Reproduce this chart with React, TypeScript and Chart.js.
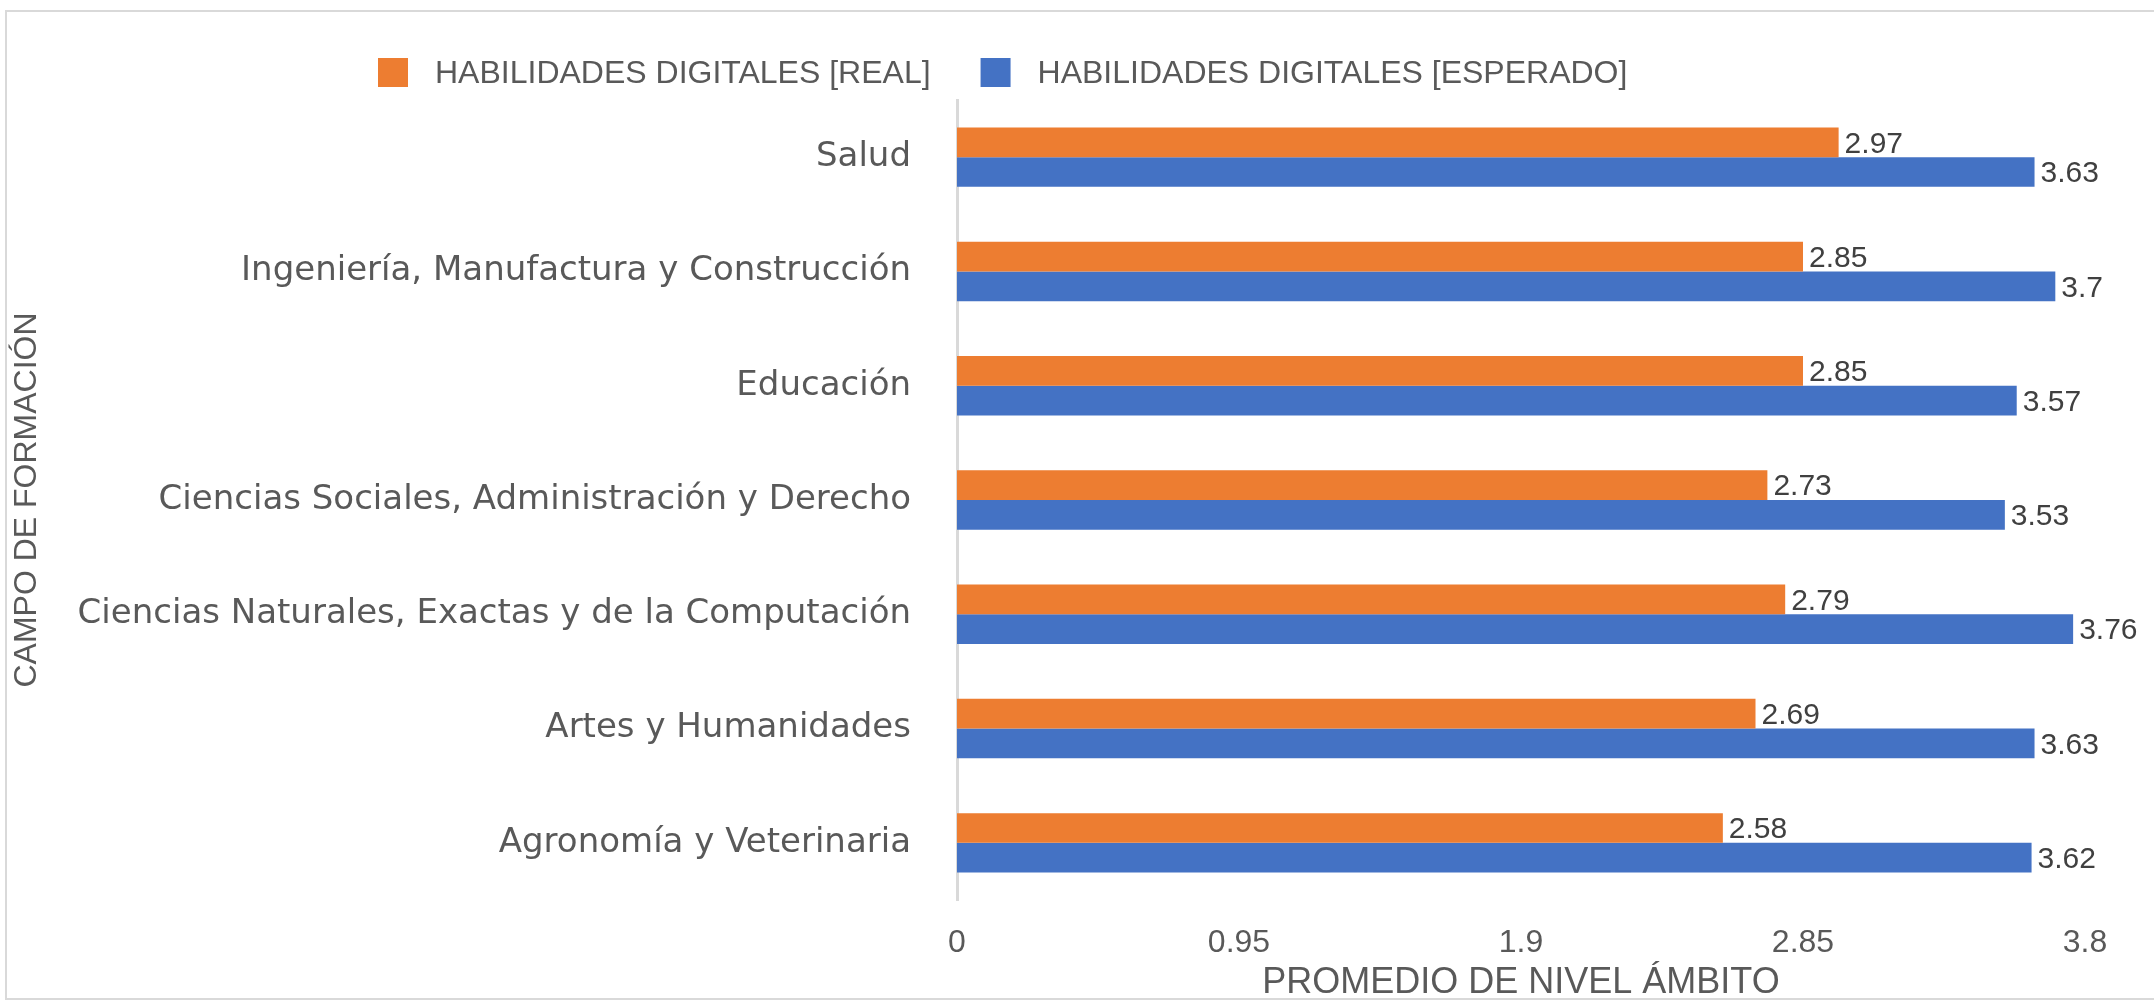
import React, { useEffect, useRef } from "react";
import { Chart, registerables } from "chart.js";

Chart.register(...registerables);

const categories = [
  "Salud",
  "Ingeniería, Manufactura y Construcción",
  "Educación",
  "Ciencias Sociales, Administración y Derecho",
  "Ciencias Naturales, Exactas y de la Computación",
  "Artes y Humanidades",
  "Agronomía y Veterinaria",
];
const realValues = [2.97, 2.85, 2.85, 2.73, 2.79, 2.69, 2.58];
const expectedValues = [3.63, 3.7, 3.57, 3.53, 3.76, 3.63, 3.62];
const seriesNames = ["HABILIDADES DIGITALES [REAL]", "HABILIDADES DIGITALES [ESPERADO]"];
const seriesColors = ["#ED7D31", "#4472C4"];
const xTicks = [0, 0.95, 1.9, 2.85, 3.8];
const xTitle = "PROMEDIO DE NIVEL ÁMBITO";
const yTitle = "CAMPO DE FORMACIÓN";

const FONT = "'Liberation Sans', Arial, sans-serif";
const CAT_FONT = "'DejaVu Sans', 'Liberation Sans', sans-serif";
const TEXT = "#595959";

const borderPlugin = {
  id: "frame",
  beforeDraw(chart: any) {
    const ctx = chart.ctx;
    ctx.save();
    ctx.strokeStyle = "#d9d9d9";
    ctx.lineWidth = 2;
    ctx.strokeRect(6, 11, 2300, 988);
    ctx.restore();
  },
};

const legendPlugin = {
  id: "customLegend",
  afterDraw(chart: any) {
    const ctx = chart.ctx;
    ctx.save();
    ctx.font = `32px ${FONT}`;
    ctx.textBaseline = "middle";
    ctx.textAlign = "left";
    let x = 378;
    const cy = 73;
    chart.data.datasets.forEach((ds: any) => {
      ctx.fillStyle = ds.backgroundColor;
      ctx.fillRect(x, cy - 15, 30, 29);
      x += 30 + 27;
      ctx.fillStyle = TEXT;
      ctx.fillText(ds.label, x, cy + 1);
      x += ctx.measureText(ds.label).width + 50;
    });
    ctx.restore();
  },
};

const dataLabelPlugin = {
  id: "dataLabels",
  afterDatasetsDraw(chart: any) {
    const ctx = chart.ctx;
    ctx.save();
    ctx.font = `30px ${FONT}`;
    ctx.fillStyle = "#404040";
    ctx.textBaseline = "middle";
    ctx.textAlign = "left";
    chart.data.datasets.forEach((ds: any, di: number) => {
      const meta = chart.getDatasetMeta(di);
      meta.data.forEach((bar: any, i: number) => {
        ctx.fillText(String(ds.data[i]), bar.x + 6, bar.y + 2);
      });
    });
    ctx.restore();
  },
};

export default function App() {
  const ref = useRef<HTMLCanvasElement>(null);

  useEffect(() => {
    document.body.style.margin = "0";
    const chart = new Chart(ref.current as HTMLCanvasElement, {
      type: "bar",
      data: {
        labels: categories,
        datasets: [
          { label: seriesNames[0], data: realValues, backgroundColor: seriesColors[0] },
          { label: seriesNames[1], data: expectedValues, backgroundColor: seriesColors[1] },
        ],
      },
      options: {
        indexAxis: "y",
        responsive: false,
        animation: false,
        devicePixelRatio: 1,
        categoryPercentage: 0.52,
        barPercentage: 1.0,
        layout: { padding: { left: 11, top: 100, right: 69, bottom: 0 } },
        plugins: {
          legend: { display: false },
          tooltip: { enabled: false },
        },
        scales: {
          x: {
            min: 0,
            max: 3.8,
            afterBuildTicks: (scale: any) => {
              scale.ticks = xTicks.map((v) => ({ value: v }));
            },
            afterFit: (scale: any) => {
              scale.height = 101;
            },
            grid: { display: false },
            border: { display: false },
            ticks: {
              padding: 16,
              color: TEXT,
              font: { family: FONT, size: 32 },
              callback: (v: any) => String(+Number(v).toFixed(2)),
            },
            title: {
              display: true,
              text: xTitle,
              color: TEXT,
              font: { family: FONT, size: 36, lineHeight: 1 },
              padding: { top: 0, bottom: 0 },
            },
          },
          y: {
            afterFit: (scale: any) => {
              scale.width = 946;
            },
            grid: { display: false },
            border: { display: true, color: "#d9d9d9", width: 3 },
            ticks: {
              padding: 38,
              color: TEXT,
              font: { family: CAT_FONT, size: 34 },
            },
            title: {
              display: true,
              text: yTitle,
              color: TEXT,
              font: { family: FONT, size: 32, lineHeight: 1 },
              padding: { top: 0, bottom: 0 },
            },
          },
        },
      },
      plugins: [borderPlugin, legendPlugin, dataLabelPlugin],
    } as any);
    return () => chart.destroy();
  }, []);

  return (
    <div style={{ width: 2154, height: 1001, background: "#fff" }}>
      <canvas ref={ref} width={2154} height={1001} style={{ display: "block" }} />
    </div>
  );
}
